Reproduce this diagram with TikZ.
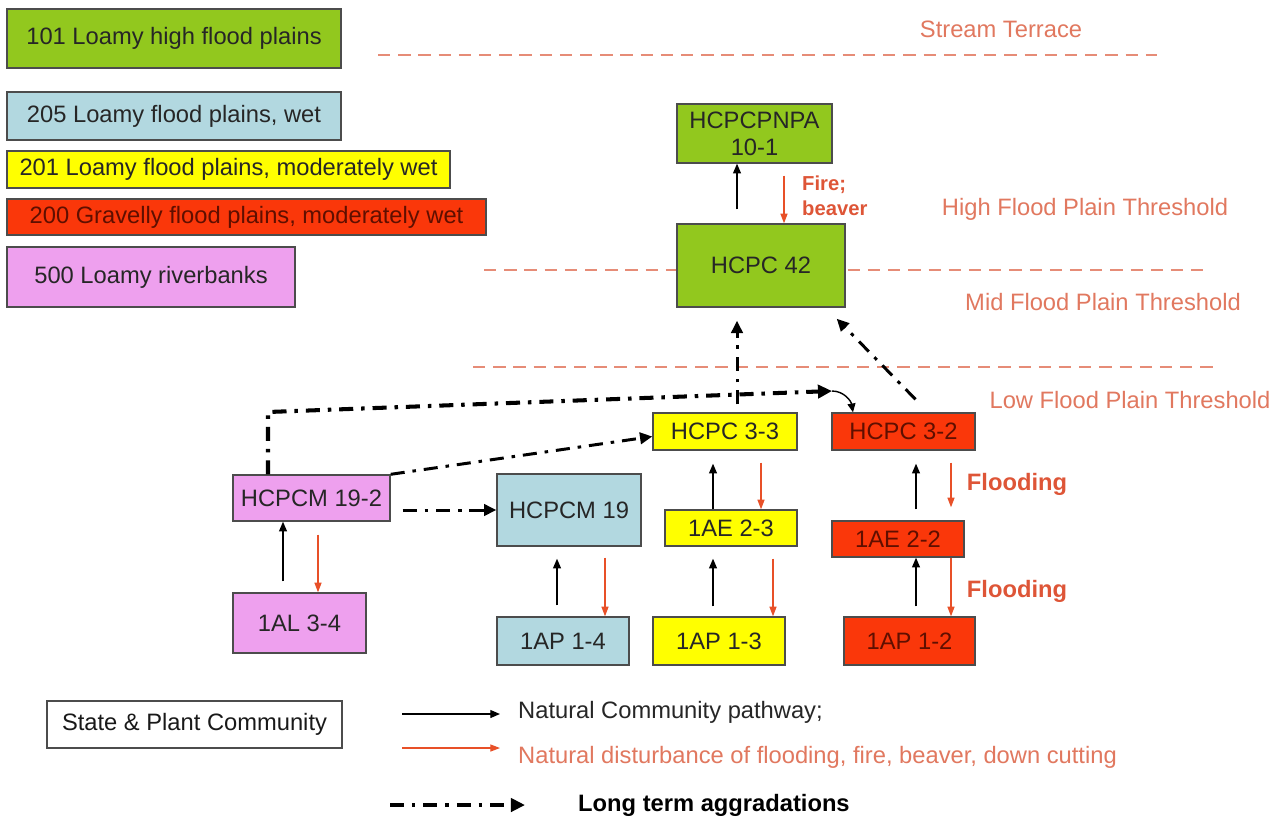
\documentclass[tikz,border=0pt]{standalone}
\usepackage{fontspec}
\setmainfont{Liberation Sans}
\usepackage{tikz}
\usetikzlibrary{calc,arrows.meta}
\definecolor{cgreen}{RGB}{146,200,30}
\definecolor{cblue}{RGB}{178,216,224}
\definecolor{cyellow}{RGB}{255,255,0}
\definecolor{cred}{RGB}{250,55,10}
\definecolor{cpink}{RGB}{238,160,238}
\definecolor{cdark}{RGB}{95,15,0}
\definecolor{csalmon}{RGB}{225,120,95}
\definecolor{cflood}{RGB}{222,85,55}
\definecolor{carrow}{RGB}{232,80,40}

\begin{document}
\begin{tikzpicture}[x=0.02cm,y=-0.02cm,
	every node/.style={font=\fontsize{13.5}{15.5}\selectfont,text=black!85},
	box/.style 2 args={draw=black!70,line width=0.8pt,inner sep=0pt,
		minimum width=#1*0.02cm,minimum height=#2*0.02cm},
	level/.style={draw=csalmon!85,line width=1pt,dash pattern=on 7pt off 4.5pt},
	lvltext/.style={text=csalmon},
	flood/.style={text=cflood,font=\fontsize{13.5}{15.5}\selectfont\bfseries},
	pathway/.style={draw=black,line width=0.7pt,-{Triangle[length=5.5pt,width=4.5pt]}},
	disturb/.style={draw=carrow,line width=0.7pt,-{Triangle[length=5.5pt,width=4pt]}},
	aggr/.style={draw=black,line width=1.7pt,dash pattern=on 8pt off 4.5pt on 2pt off 4.5pt,
		-{Triangle[length=7pt,width=6.5pt]}},
	aggrthick/.style={aggr,line width=2.3pt,-{Triangle[length=8pt,width=7.5pt]}}]
	\useasboundingbox[fill=white] (0,0) rectangle (1280,819);

	% levels
	\draw[level] (378,55) -- (1157,55);
	\draw[level] (484,270) -- (1205,270);
	\draw[level] (473,367) -- (1213,367);
	\node[lvltext] (tstream) at (1001,29) {Stream Terrace};
	\node[lvltext] (thigh) at (1085,209) {High Flood Plain Threshold};
	\node[lvltext] (tmid) at (1103,302) {Mid Flood Plain Threshold};
	\node[lvltext] (tlow) at (1130,400) {Low Flood Plain Threshold};

	% site legend
	\node[box={334}{59},fill=cgreen] (l101) at (174,38.5) {101 Loamy high flood plains};
	\node[box={334}{48},fill=cblue] (l205) at (174,116) {205 Loamy flood plains, wet};
	\node[box={443}{37},fill=cyellow] (l201) at (228.5,169.5) {201 Loamy flood plains, moderately wet};
	\node[box={479}{36},fill=cred,text=cdark] (l200) at (246.5,217) {200 Gravelly flood plains, moderately wet};
	\node[box={288}{60},fill=cpink] (l500) at (151,277) {500 Loamy riverbanks};

	% states
	\node[box={155}{59},fill=cgreen,align=center] (pnpa) at (754.5,133.5) {HCPCPNPA\\10-1};
	\node[box={168}{83},fill=cgreen] (h42) at (761,265.5) {HCPC 42};
	\node[box={144}{37},fill=cyellow] (c33) at (725,431.5) {HCPC 3-3};
	\node[box={143}{37},fill=cred,text=cdark] (c32) at (903.5,431.5) {HCPC 3-2};
	\node[box={132}{36},fill=cyellow] (ae23) at (731,528) {1AE 2-3};
	\node[box={132}{36},fill=cred,text=cdark] (ae22) at (898,539) {1AE 2-2};
	\node[box={132}{48},fill=cyellow] (ap13) at (719,641) {1AP 1-3};
	\node[box={131}{48},fill=cred,text=cdark] (ap12) at (909.5,641) {1AP 1-2};
	\node[box={157}{46},fill=cpink] (m192) at (311.5,498) {HCPCM 19-2};
	\node[box={144}{72},fill=cblue] (m19) at (569,510) {HCPCM 19};
	\node[box={133}{60},fill=cpink] (al34) at (299.5,623) {1AL 3-4};
	\node[box={132}{48},fill=cblue] (ap14) at (563,641) {1AP 1-4};

	% pathways and disturbances
	\draw[pathway,shorten <=0.28cm] (737,0 |- h42.north) -- (737,0 |- pnpa.south);
	\draw[disturb,shorten <=0.24cm] (784,0 |- pnpa.south) -- (784,0 |- h42.north);
	\node[flood,font=\fontsize{11.5}{14}\selectfont\bfseries,anchor=west,align=left] (fire) at (796,196) {Fire;\\beaver};
	\draw[pathway,shorten <=0.22cm] (283,0 |- al34.north) -- (283,0 |- m192.south);
	\draw[disturb,shorten <=0.26cm] (318,0 |- m192.south) -- (318,0 |- al34.north);
	\draw[pathway,shorten <=0.22cm,shorten >=0.24cm] (557,0 |- ap14.north) -- (557,0 |- m19.south);
	\draw[disturb,shorten <=0.22cm] (605,0 |- m19.south) -- (605,0 |- ap14.north);
	\draw[pathway,shorten >=0.26cm] (713,0 |- ae23.north) -- (713,0 |- c33.south);
	\draw[disturb,shorten <=0.24cm] (761,0 |- c33.south) -- (761,0 |- ae23.north);
	\draw[pathway,shorten <=0.2cm,shorten >=0.24cm] (713,0 |- ap13.north) -- (713,0 |- ae23.south);
	\draw[disturb,shorten <=0.24cm] (773,0 |- ae23.south) -- (773,0 |- ap13.north);
	\draw[pathway,shorten <=0.22cm,shorten >=0.26cm] (916,0 |- ae22.north) -- (916,0 |- c32.south);
	\draw[disturb,shorten <=0.24cm,shorten >=0.26cm] (951,0 |- c32.south) -- (951,0 |- ae22.north);
	\draw[pathway,shorten <=0.2cm] (916,0 |- ap12.north) -- (916,0 |- ae22.south);
	\draw[disturb] (951,0 |- ae22.south) -- (951,0 |- ap12.north);
	\node[flood] (fl1) at (1017,484) {Flooding};
	\node[flood] (fl2) at (1017,591) {Flooding};

	% aggradations
	\coordinate (ka) at (268,412);
	\coordinate (kb) at (832,391);
	\draw[aggrthick] (268,0 |- m192.north) -- (ka) -- (kb);
	\draw[draw=black,line width=0.8pt,-{Triangle[length=5pt,width=4.5pt]}] (kb) to[out=0,in=100] (853,0 |- c32.north);
	\draw[aggr] (m192.north east) -- ($(c33.west)+(0,5)$);
	\draw[aggr] ($(m192.east |- m19.west)+(12,0)$) -- (m19.west);
	\draw[aggr] ($(c33.north)+(12,-8)$) -- ($(h42.south)+(-24,13)$);
	\draw[aggr] ($(c32.north)+(12,-13)$) -- ($(h42.south east)+(-9,11)$);

	% legend
	\node[box={295}{47},fill=white,text=black!90] (state) at (194.5,724.5) {State \& Plant Community};
	\node[anchor=west] (lpath) at (512,712) {Natural Community pathway;};
	\node[anchor=west,text=csalmon] (ldist) at (512,757) {Natural disturbance of flooding, fire, beaver, down cutting};
	\node[anchor=west,text=black,font=\fontsize{13.5}{15.5}\selectfont\bfseries] (laggr) at (572,805) {Long term aggradations};
	\coordinate (kp) at (402,714);
	\coordinate (kd) at (402,748);
	\coordinate (kg) at (390,805);
	\draw[pathway,shorten >=0.24cm] (kp) -- (kp -| lpath.west);
	\draw[disturb,shorten >=0.24cm] (kd) -- (kd -| ldist.west);
	\draw[aggrthick,shorten >=0.94cm] (kg) -- (kg -| laggr.west);
\end{tikzpicture}
\end{document}
